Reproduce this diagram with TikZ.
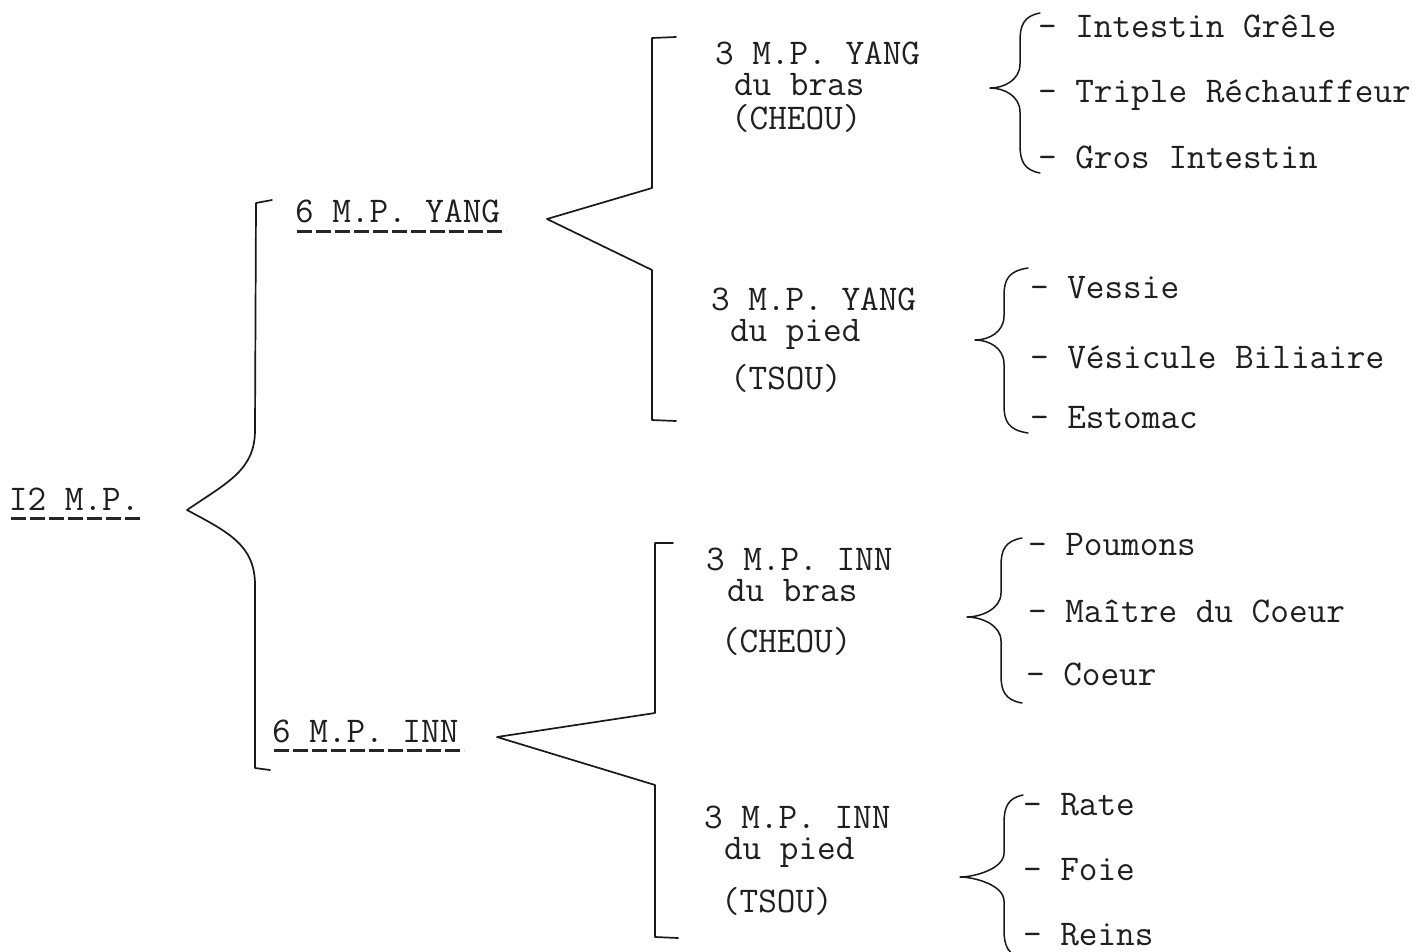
\documentclass[tikz,border=0pt]{standalone}
\usepackage{fontspec}
\newcommand\twblock[1]{\begin{tabular}[t]{@{}l@{}}#1\end{tabular}}
\newcommand\ind[1]{\hspace*{#1pt}}
\begin{document}
\begin{tikzpicture}[x=1pt,y=-1pt,
  tw/.style={anchor=base west,inner sep=0pt,outer sep=0pt,text=black!88,
    font=\ttfamily\fontsize{36.2pt}{31pt}\selectfont},
  brk/.style={draw=black!90,line width=1.7pt,line join=round,line cap=round},
  ul/.style={draw=black!85,line width=3pt,dash pattern=on 15pt off 4pt}]
\useasboundingbox (0,0) rectangle (1414,951);

% ---- level 0 and 1 ----
\node[tw] (root) at (9,510) {I2 M.P.};
\node[tw] (yang) at (295,222) {6 M.P. YANG};
\node[tw] (inn)  at (272,742) {6 M.P. INN};
\draw[ul] (11,518) -- (143,518);
\draw[ul] (297,231) -- (506,231);
\draw[ul] (274,750) -- (464,750);

% ---- level 2 ----
\node[tw] (yb) at (715,64)  {\twblock{3 M.P. YANG\\\ind{19}du bras\\\ind{16}(CHEOU)}};
\node[tw] (yp) at (711,310) {\twblock{3 M.P. YANG\\\ind{19}du pied\\[14pt]\ind{19}(TSOU)}};
\node[tw] (ib) at (706,570) {\twblock{3 M.P. INN\\\ind{21}du bras\\[17pt]\ind{15}(CHEOU)}};
\node[tw] (ip) at (704,828) {\twblock{3 M.P. INN\\\ind{20}du pied\\[19pt]\ind{17}(TSOU)}};

% ---- level 3 ----
\node[tw] (a1) at (1038,37)  {- Intestin Grêle};
\node[tw] (a2) at (1038,102) {- Triple Réchauffeur};
\node[tw] (a3) at (1038,168) {- Gros Intestin};
\node[tw] (b1) at (1030,298) {- Vessie};
\node[tw] (b2) at (1030,368) {- Vésicule Biliaire};
\node[tw] (b3) at (1030,428) {- Estomac};
\node[tw] (c1) at (1028,555) {- Poumons};
\node[tw] (c2) at (1028,622) {- Maître du Coeur};
\node[tw] (c3) at (1026,685) {- Coeur};
\node[tw] (d1) at (1023,815) {- Rate};
\node[tw] (d2) at (1023,880) {- Foie};
\node[tw] (d3) at (1023,945) {- Reins};

% ---- tips of the brackets ----
\coordinate (t0) at (187,510);
\coordinate (ty) at (547,219);
\coordinate (ti) at (497,737);

% big brace (root)
\draw[brk] (272,200) -- (256,203) -- (255,430)
  .. controls (255,470) and (228,482) .. (t0)
  .. controls (228,532) and (255,545) .. (255,585)
  -- (255,768) -- (270,770);

% angular brackets
\draw[brk] (676,37) -- (652,38) -- (652,188) -- (ty) -- (652,270) -- (652,420) -- (676,421);
\draw[brk] (673,543) -- (655,543) -- (655,713) -- (ti) -- (655,785) -- (655,937) -- (678,938);

% curly braces
\newcommand\curlyb[6]{%
  \draw[brk,line width=1.5pt] (#1,#4) .. controls ({#2+4},{#4+3}) and (#2,{#4+12}) .. (#2,{#4+28})
   -- (#2,{#5-24}) .. controls (#2,{#5-8}) and ({#3+14},#5) .. (#3,#5)
   .. controls ({#3+14},#5) and (#2,{#5+8}) .. (#2,{#5+24})
   -- (#2,{#6-28}) .. controls (#2,{#6-12}) and ({#2+4},{#6-3}) .. (#1,#6);}
\curlyb{1040}{1020}{990}{13}{88}{173}
\curlyb{1028}{1004}{975}{268}{340}{433}
\curlyb{1022}{1001}{967}{538}{617}{703}
\curlyb{1023}{1004}{960}{795}{877}{958}
\end{tikzpicture}
\end{document}
